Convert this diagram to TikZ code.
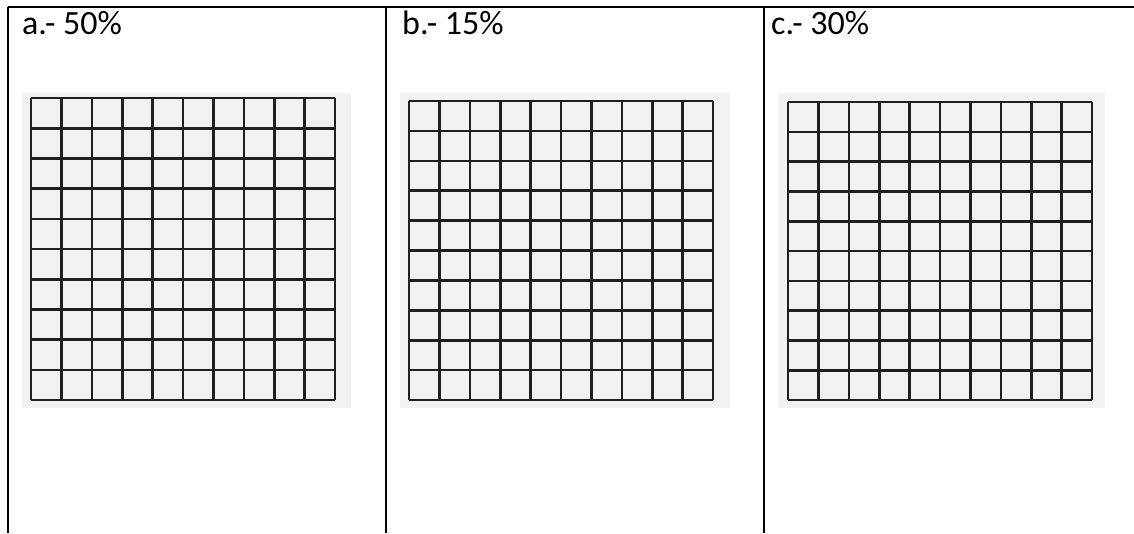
\documentclass[tikz,border=0pt]{standalone}
\usepackage{fontspec}
\setmainfont{Carlito}
\usepackage{tikz}

\begin{document}
\begin{tikzpicture}[x=1pt,y=-1pt]
			\useasboundingbox[fill=white](0,0) rectangle (1134,533);
			\draw[line width=2.4pt](8,7)--(1134,7);
			\draw[line width=2.2pt](8,7)--(8,533);
			\draw[line width=2.2pt](386,7)--(386,533);
			\draw[line width=2.2pt](764,7)--(764,533);
			
			\node[anchor=base west,inner sep=0pt,font=\fontsize{34}{40}\selectfont] (la) at (22,34) {a.- 50\%};
			\node[anchor=base west,inner sep=0pt,font=\fontsize{34}{40}\selectfont] (lb) at (402,34) {b.- 15\%};
			\node[anchor=base west,inner sep=0pt,font=\fontsize{34}{40}\selectfont] (lc) at (771,34) {c.- 30\%};
			
			\foreach \bx/\bX/\gx/\gy/\gX in {22/351/31/98/335, 400/730/409/101/713, 778/1105/788/102/1092}{
				\fill[black!5](\bx,93) rectangle (\bX,408);
				\foreach \i in {0,...,10}{
					\draw[line width=2.6pt,black!88]({\gx+\i*(\gX-\gx)/10},\gy)--({\gx+\i*(\gX-\gx)/10},400);
					\draw[line width=2.6pt,black!88](\gx,{\gy+\i*(400-\gy)/10})--(\gX,{\gy+\i*(400-\gy)/10});
				}
			}
\end{tikzpicture}
\end{document}
